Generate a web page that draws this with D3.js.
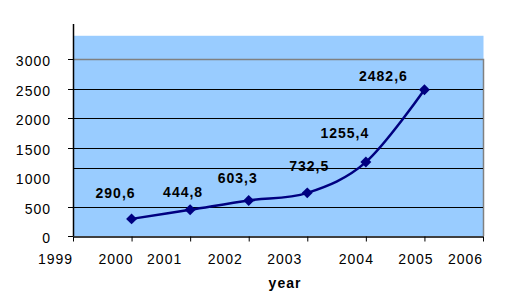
<!DOCTYPE html>
<meta charset="utf-8">
<style>
    body { margin: 0; background: #fff; }
    svg { display: block; }
    text {
        font-family: "Liberation Sans", Arial, sans-serif;
        font-size: 14px;
        letter-spacing: 1px;
        fill: #000;
    }
    .value { font-weight: bold; }
    .title { font-weight: bold; }
</style>
<svg width="525" height="305"></svg>
<script src="https://cdn.jsdelivr.net/npm/d3@7/dist/d3.min.js"></script>
<script>

    // data
    var years = [2000, 2001, 2002, 2003, 2004, 2005];
    var values = [290.6, 444.8, 603.3, 732.5, 1255.4, 2482.6];
    var valueLabels = ["290,6", "444,8", "603,3", "732,5", "1255,4", "2482,6"];
    var xTicks = [1999, 2000, 2001, 2002, 2003, 2004, 2005, 2006];
    var yTicks = [0, 500, 1000, 1500, 2000, 2500, 3000];
    var gridValues = [500, 1150, 1500, 2000, 2500];
    var yTickMarks = [0, 500, 1500, 2000, 2500, 3000];

    // layout tweaks (labels sit a bit off their ticks in the original)
    var xLabelShift = [-18, -16, -26, -24, -23, -10, -9, -18];
    var valueShift = [[-16, -21], [-7, -13], [-11, -17], [2, -22], [-21, -24], [-41, -9]];

    var svg = d3.select("svg");

    var x = d3.scaleLinear().domain([1999, 2006]).range([73, 483]);
    var y = d3.scaleLinear().domain([0, 3600]).range([236, 24]);

    // plot background
    svg.append("rect")
        .attr("x", x(1999))
        .attr("y", y(3400))
        .attr("width", x(2006) - x(1999) + 0.5)
        .attr("height", y(0) - y(3400))
        .attr("fill", "#99ccff");

    // frame (top at 3000, right side)
    svg.append("path")
        .attr("d", "M" + x(1999) + "," + (Math.round(y(3000)) + 0.5) +
            "H" + (x(2006) + 0.5) + "V" + y(0))
        .attr("fill", "none")
        .attr("stroke", "#808080")
        .attr("stroke-width", 1.5);

    svg.selectAll("line.grid")
        .data(gridValues)
        .enter().append("line")
        .attr("class", "grid")
        .attr("x1", function (d) { return d === 1150 ? x(1999) + 1 : x(1999); })
        .attr("x2", x(2006))
        .attr("y1", function (d) { return Math.round(y(d)) + 0.5; })
        .attr("y2", function (d) { return Math.round(y(d)) + 0.5; })
        .attr("stroke", "#000")
        .attr("stroke-width", 1);

    // y axis
    svg.append("line")
        .attr("x1", x(1999) + 0.5).attr("x2", x(1999) + 0.5)
        .attr("y1", y(3600)).attr("y2", y(0) + 0.5)
        .attr("stroke", "#000").attr("stroke-width", 1.5);

    svg.selectAll("line.ytick")
        .data(yTickMarks)
        .enter().append("line")
        .attr("class", "ytick")
        .attr("x1", x(1999) - 5).attr("x2", x(1999))
        .attr("y1", function (d) { return Math.round(y(d)) + 0.5; })
        .attr("y2", function (d) { return Math.round(y(d)) + 0.5; })
        .attr("stroke", "#000");

    svg.selectAll("text.ylab")
        .data(yTicks)
        .enter().append("text")
        .attr("class", "ylab")
        .attr("x", x(1999) - 22)
        .attr("y", function (d) { return y(d) + 7; })
        .attr("text-anchor", "end")
        .text(function (d) { return d; });

    // x axis
    var xAxis = d3.axisBottom(x)
        .tickValues(xTicks)
        .tickSize(5)
        .tickSizeOuter(0)
        .tickFormat(d3.format("d"));

    var gx = svg.append("g")
        .attr("transform", "translate(0," + (y(0) + 0.5) + ")")
        .call(xAxis);
    gx.select(".domain").attr("stroke", "#000").attr("stroke-width", 1.5);
    gx.selectAll(".tick line").attr("stroke", "#000");
    gx.selectAll(".tick text")
        .attr("font-family", null)
        .attr("font-size", null)
        .attr("fill", "#000")
        .attr("dy", null)
        .attr("y", 27)
        .attr("dx", function (d, i) { return xLabelShift[i]; });
    gx.attr("font-family", null).attr("font-size", null);

    svg.append("text")
        .attr("class", "title")
        .attr("x", 285)
        .attr("y", 288)
        .attr("text-anchor", "middle")
        .text("year");

    // series
    var line = d3.line()
        .x(function (d, i) { return x(years[i]); })
        .y(function (d) { return y(d); })
        .curve(d3.curveCatmullRom.alpha(0));

    svg.append("path")
        .datum(values)
        .attr("d", line)
        .attr("fill", "none")
        .attr("stroke", "#000080")
        .attr("stroke-width", 2.5);

    svg.selectAll("path.marker")
        .data(values)
        .enter().append("path")
        .attr("class", "marker")
        .attr("d", d3.symbol(d3.symbolSquare, 60))
        .attr("transform", function (d, i) {
            return "translate(" + x(years[i]) + "," + y(d) + ") rotate(45)";
        })
        .attr("fill", "#000080");

    svg.selectAll("text.value")
        .data(values)
        .enter().append("text")
        .attr("class", "value")
        .attr("x", function (d, i) { return x(years[i]) + valueShift[i][0]; })
        .attr("y", function (d, i) { return y(d) + valueShift[i][1]; })
        .attr("text-anchor", "middle")
        .text(function (d, i) { return valueLabels[i]; });

</script>
